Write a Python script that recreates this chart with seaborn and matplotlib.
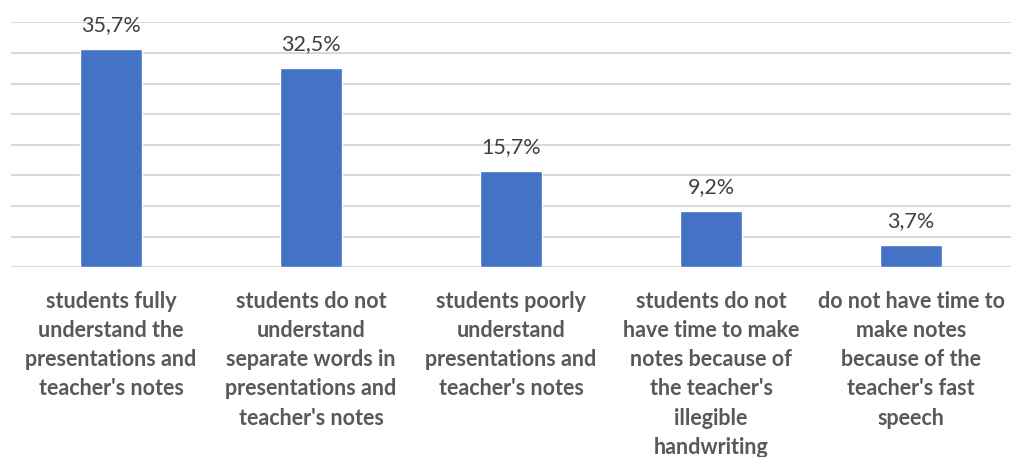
import matplotlib
matplotlib.use("Agg")
import matplotlib.pyplot as plt
import seaborn as sns

categories = [
    "students fully\nunderstand the\npresentations and\nteacher's notes",
    "students do not\nunderstand\nseparate words in\npresentations and\nteacher's notes",
    "students poorly\nunderstand\npresentations and\nteacher's notes",
    "students do not\nhave time to make\nnotes because of\nthe teacher's\nillegible\nhandwriting",
    "do not have time to\nmake notes\nbecause of the\nteacher's fast\nspeech",
]
values = [35.7, 32.5, 15.7, 9.2, 3.7]

sns.set_theme(style="white")
plt.rcParams["font.family"] = ["Lato", "DejaVu Sans"]

fig = plt.figure(figsize=(10.13, 4.57), dpi=100)
ax = fig.add_axes([11 / 1013, 1 - 267.3 / 457, 1000 / 1013, (267.3 - 22.3) / 457])

sns.barplot(x=categories, y=values, color="#4472C4", width=0.31, saturation=1, ax=ax)

ax.set_ylim(0, 40)
ax.set_yticks(range(0, 41, 5))
ax.yaxis.grid(True, color="#d9d9d9", linewidth=1.5)
ax.set_axisbelow(True)
ax.tick_params(axis="y", left=False, labelleft=False)
ax.tick_params(axis="x", bottom=False, pad=11)
for s in ax.spines.values():
    s.set_visible(False)

for lab in ax.get_xticklabels():
    lab.set_fontweight("bold")
    lab.set_fontsize(15.5)
    lab.set_color("#595959")
    lab.set_linespacing(1.48)

ax.bar_label(ax.containers[0],
             labels=[f"{v:.1f}%".replace(".", ",") for v in values],
             padding=10, fontsize=15.5, color="#404040")
ax.set_xlim(-0.5, 4.5)

fig.savefig("out.png", dpi=100)
